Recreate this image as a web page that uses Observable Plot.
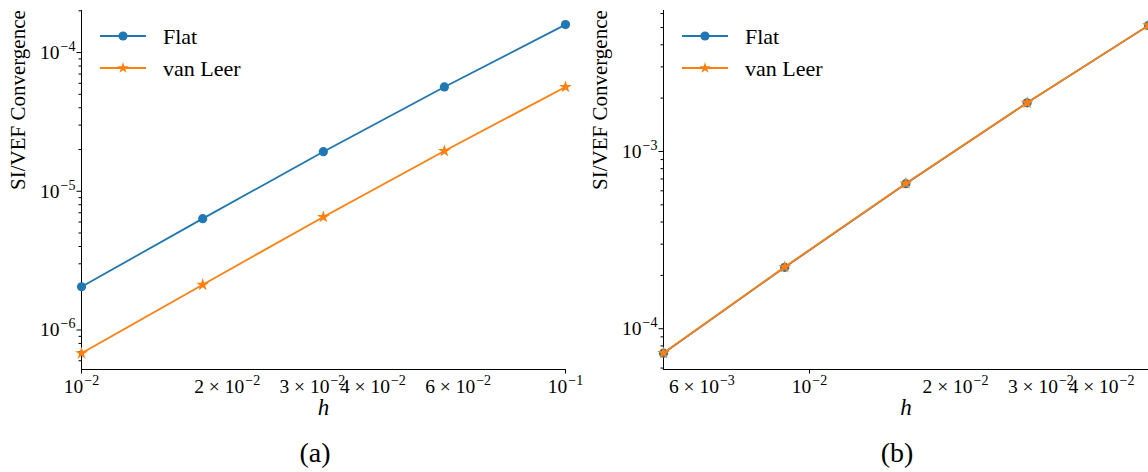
<!DOCTYPE html>
<html>
<head>
<meta charset="utf-8">
<script src="https://cdn.jsdelivr.net/npm/d3@7"></script>
<script src="https://cdn.jsdelivr.net/npm/@observablehq/plot@0.6"></script>
<style>
  html, body { margin: 0; padding: 0; background: #fff; }
  #wrap { position: relative; width: 1148px; height: 472px; background: #fff; overflow: hidden; font-family: "Liberation Serif", "DejaVu Serif", serif; color: #000; }
  .panel { position: absolute; top: 0; }
  .caption { position: absolute; font-size: 28px; line-height: 1; transform: translate(-50%, -50%); }
  .legend { position: absolute; }
</style>
</head>
<body>
<div id="wrap">
  <div id="pb" class="panel" style="left:580px"></div>
  <div id="pa" class="panel" style="left:0"></div>
  <div class="caption" style="left:315px;top:453px">(a)</div>
  <div class="caption" style="left:897px;top:453px">(b)</div>
  <svg id="lega" class="legend" style="left:95px;top:18px" width="200" height="66"></svg>
  <svg id="legb" class="legend" style="left:677px;top:18px" width="200" height="66"></svg>
</div>
<script>
// ---------------- data ----------------
const seriesNames = ["Flat", "van Leer"];
const seriesColors = ["#1f77b4", "#ff7f0e"];

// panel (a)
const hA = [0.01, 0.0178, 0.0316, 0.0562, 0.1];
const flatA = [2.05e-6, 6.35e-6, 1.93e-5, 5.65e-5, 1.59e-4];
const vanLeerA = [6.8e-7, 2.12e-6, 6.53e-6, 1.95e-5, 5.65e-5];

// panel (b)
const hB = [0.005, 0.00889, 0.0158, 0.0281, 0.05];
const flatB = [7.28e-5, 2.22e-4, 6.58e-4, 1.88e-3, 5.14e-3];
const vanLeerB = [7.3e-5, 2.23e-4, 6.6e-4, 1.88e-3, 5.14e-3];

// axis domains and ticks
const xDomainA = [0.01, 0.1];
const yDomainA = [5.19e-7, 2.01e-4];
const xDomainB = [0.005, 0.05];
const yDomainB = [5.89e-5, 6.24e-3];

const xMajorA = [0.01, 0.1];
const xTicksA = [0.01, 0.02, 0.03, 0.04, 0.06, 0.1];
const xTickLabelsA = ["10^\u22122", "2 \u00d7 10^\u22122", "3 \u00d7 10^\u22122", "4 \u00d7 10^\u22122", "6 \u00d7 10^\u22122", "10^\u22121"];
const yTicksA = [1e-6, 1e-5, 1e-4];
const yTickLabelsA = ["10^\u22126", "10^\u22125", "10^\u22124"];

const xMajorB = [0.01];
const xTicksB = [0.006, 0.01, 0.02, 0.03, 0.04];
const xTickLabelsB = ["6 \u00d7 10^\u22123", "10^\u22122", "2 \u00d7 10^\u22122", "3 \u00d7 10^\u22122", "4 \u00d7 10^\u22122"];
const yTicksB = [1e-4, 1e-3];
const yTickLabelsB = ["10^\u22124", "10^\u22123"];

const yLabel = "SI/VEF Convergence";
const xLabel = "h";

// ---------------- helpers ----------------
const FONT = "'Liberation Serif', 'DejaVu Serif', serif";
function rows(h, a, b) {
  const out = [];
  h.forEach((x, i) => { out.push({h: x, v: a[i], s: seriesNames[0]}); });
  h.forEach((x, i) => { out.push({h: x, v: b[i], s: seriesNames[1]}); });
  return out;
}
function minorTicks(domain) {
  const out = [];
  const lo = Math.floor(Math.log10(domain[0])), hi = Math.ceil(Math.log10(domain[1]));
  for (let e = lo; e <= hi; e++) for (let m = 2; m <= 9; m++) {
    const v = m * Math.pow(10, e);
    if (v >= domain[0] && v <= domain[1]) out.push(v);
  }
  return out;
}
function labeler(ticks, labels) {
  return d => { const i = ticks.findIndex(t => Math.abs(t - d) / t < 1e-6); return i < 0 ? "" : labels[i]; };
}
function supify(svg, expSize, raise) {
  svg.querySelectorAll("text").forEach(t => {
    const s = t.textContent;
    if (!s.includes("^")) return;
    const k = s.indexOf("^");
    const base = s.slice(0, k), exp = s.slice(k + 1);
    while (t.firstChild) t.removeChild(t.firstChild);
    const ns = "http://www.w3.org/2000/svg";
    const b = document.createElementNS(ns, "tspan"); b.textContent = base; t.appendChild(b);
    const e = document.createElementNS(ns, "tspan"); e.textContent = exp;
    e.setAttribute("font-size", expSize); e.setAttribute("dy", -raise); e.setAttribute("dx", 1); t.appendChild(e);
  });
}

function panel(opts) {
  const data = rows(opts.h, opts.a, opts.b);
  const flat = data.filter(d => d.s === seriesNames[0]);
  const vl = data.filter(d => d.s === seriesNames[1]);
  const svg = Plot.plot({
    width: opts.width, height: 430,
    marginLeft: opts.marginLeft, marginRight: opts.marginRight, marginTop: 10, marginBottom: 61,
    style: {fontFamily: FONT, fontSize: "19.5px", color: "#000", background: "none", overflow: "hidden"},
    x: {type: "log", domain: opts.xDomain},
    y: {type: "log", domain: opts.yDomain},
    marks: [
      Plot.axisY({ticks: minorTicks(opts.yDomain), tickSize: 2.5, tickFormat: () => "", label: null}),
      Plot.axisY({ticks: opts.yTicks, tickSize: 4.5, tickPadding: 1.5, tickFormat: labeler(opts.yTicks, opts.yLabels), label: null, fontSize: 19.5, fontFamily: FONT}),
      Plot.axisX({ticks: opts.xMajor, tickSize: 4.5, tickFormat: () => "", label: null}),
      Plot.axisX({ticks: opts.xTicks, tickSize: 0, tickPadding: 10, tickFormat: labeler(opts.xTicks, opts.xLabels), label: null, fontSize: 19.5, fontFamily: FONT}),
      Plot.ruleX([opts.xDomain[0]], {stroke: "#000", strokeWidth: 1}),
      Plot.ruleY([opts.yDomain[0]], {stroke: "#000", strokeWidth: 1}),
      Plot.line(flat, {x: "h", y: "v", stroke: seriesColors[0], strokeWidth: 1.8}),
      Plot.dot(flat, {x: "h", y: "v", fill: seriesColors[0], r: 4.6, symbol: "circle"}),
      Plot.line(vl, {x: "h", y: "v", stroke: seriesColors[1], strokeWidth: 1.8}),
      Plot.dot(vl, {x: "h", y: "v", fill: seriesColors[1], r: 4.0, symbol: "star"}),
      Plot.text([yLabel], {text: d => d, frameAnchor: "left", dx: -63, rotate: -90, fontSize: 21, fontFamily: FONT}),
      Plot.text([xLabel], {text: d => d, frameAnchor: "bottom", dy: 45, fontSize: 23, fontStyle: "italic", fontFamily: FONT})
    ]
  });
  supify(svg, "14px", 8);
  return svg;
}

document.getElementById("pa").appendChild(panel({
  width: 600, marginLeft: 81, marginRight: 35,
  h: hA, a: flatA, b: vanLeerA, xDomain: xDomainA, yDomain: yDomainA,
  xMajor: xMajorA, xTicks: xTicksA, xLabels: xTickLabelsA, yTicks: yTicksA, yLabels: yTickLabelsA
}));
document.getElementById("pb").appendChild(panel({
  width: 568, marginLeft: 83, marginRight: 0,
  h: hB, a: flatB, b: vanLeerB, xDomain: xDomainB, yDomain: yDomainB,
  xMajor: xMajorB, xTicks: xTicksB, xLabels: xTickLabelsB, yTicks: yTicksB, yLabels: yTickLabelsB
}));

// legends
function legend(id) {
  const svg = d3.select("#" + id);
  const symbols = [d3.symbolCircle, d3.symbolStar];
  const radii = [4.6, 3.6];
  seriesNames.forEach((name, i) => {
    const y = 18 + i * 32;
    const g = svg.append("g");
    g.append("line").attr("x1", 5).attr("x2", 51).attr("y1", y).attr("y2", y)
      .attr("stroke", seriesColors[i]).attr("stroke-width", 1.8);
    g.append("path").attr("d", d3.symbol(symbols[i], Math.PI * radii[i] * radii[i])())
      .attr("transform", `translate(28,${y})`).attr("fill", seriesColors[i]);
    g.append("text").attr("x", 68).attr("y", y).attr("dy", "0.35em")
      .attr("font-size", 22).attr("font-family", FONT)
      .text(name);
  });
}
legend("lega");
legend("legb");
</script>
</body>
</html>
